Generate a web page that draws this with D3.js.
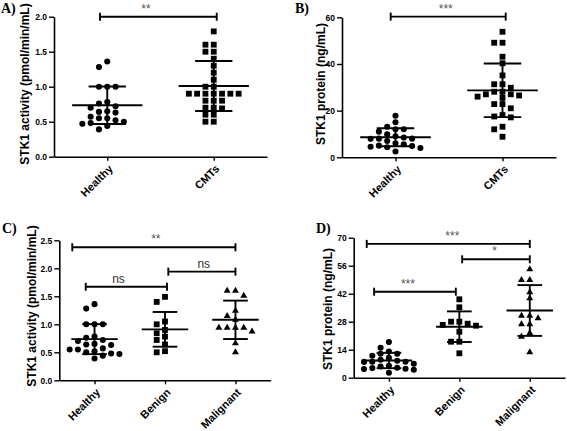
<!DOCTYPE html>
<html><head><meta charset="utf-8">
<script src="https://cdn.jsdelivr.net/npm/d3@7"></script>
<style>
body{margin:0;background:#fff;}
svg{display:block;}
</style></head><body>
<svg id="chart" width="567" height="431"></svg>
<script>
// ---------------- data ----------------
const catsTwo = ["Healthy", "CMTs"];
const catsThree = ["Healthy", "Benign", "Malignant"];

const healthyActivity = [1.36, 1.28, 1.00, 1.00, 1.00, 0.78, 0.76, 0.72, 0.70, 0.65, 0.64, 0.63, 0.57, 0.55, 0.55, 0.52, 0.50, 0.48, 0.47, 0.44, 0.39];
const cmtActivity = [1.79, 1.60, 1.60, 1.50, 1.50, 1.40, 1.30, 1.20, 1.10, 1.00, 1.00, 0.90, 0.90, 0.90, 0.90, 0.90, 0.90, 0.90, 0.80, 0.80, 0.80, 0.70, 0.70, 0.69, 0.60, 0.60, 0.50, 0.50];
const benignActivity = [1.49, 1.40, 1.05, 1.00, 0.90, 0.84, 0.78, 0.72, 0.64, 0.52, 0.50];
const malignantActivity = [1.60, 1.60, 1.51, 1.24, 1.15, 1.08, 0.94, 0.94, 0.94, 0.94, 0.87, 0.66, 0.50];

const healthyProtein = [17.8, 15.0, 13.1, 12.0, 12.0, 11.0, 9.9, 9.0, 8.5, 8.0, 8.0, 7.9, 7.0, 6.0, 5.6, 5.0, 4.8, 4.5, 4.3, 4.0, 2.5];
const cmtProtein = [53.8, 49.1, 49.1, 43.1, 40.3, 35.1, 31.3, 31.3, 29.8, 28.1, 28.1, 27.0, 27.0, 26.5, 26.0, 25.5, 22.8, 22.8, 21.0, 18.1, 17.5, 17.1, 13.1, 12.0, 8.8];
const benignProtein = [39.2, 35.2, 28.0, 28.0, 27.0, 26.4, 26.0, 23.0, 18.0, 18.0, 12.2];
const malignantProtein = [54.2, 48.8, 48.8, 42.7, 39.7, 31.0, 31.0, 29.7, 26.7, 26.7, 22.3, 20.5, 12.7];

// mean and SD bars as drawn
const meanA = [0.735, 1.01];  const sdA = [0.268, 0.357];
const meanB = [8.6, 28.7];    const sdB = [3.85, 11.5];
const meanC = [0.735, 0.91, 1.08]; const sdC = [0.268, 0.31, 0.343];
const meanD = [8.6, 25.5, 33.6];   const sdD = [3.85, 7.65, 12.7];

// tick labels
const ticksA = [0, 0.5, 1.0, 1.5, 2.0];
const ticksB = [0, 20, 40, 60];
const ticksC = [0, 0.5, 1.0, 1.5, 2.0, 2.5];
const ticksD = [0, 14, 28, 42, 56, 70];

// significance brackets: category-index span, height, label, label position
const compsA = [{from: -0.068, to: 1.028, y: 2.0, text: "**", at: 0.364}];
const compsB = [{from: -0.045, to: 1.03, y: 60.3, text: "***", at: 0.47}];
const compsC = [
  {from: -0.316, to: 2.0, y: 2.375, text: "**", at: 0.87},
  {from: -0.125, to: 1.028, y: 1.67, text: "ns", at: 0.34},
  {from: 1.047, to: 2.0, y: 1.94, text: "ns", at: 1.55}
];
const compsD = [
  {from: -0.315, to: 2.0, y: 66.9, text: "***", at: 0.9},
  {from: 1.04, to: 2.0, y: 59.2, text: "*", at: 1.5},
  {from: -0.21, to: 0.95, y: 43, text: "***", at: 0.27}
];

const labelActivity = "STK1 activity (pmol/min/mL)";
const labelProtein = "STK1 protein (ng/mL)";

// ---------------- drawing ----------------
const SANS = "'Liberation Sans', Arial, Helvetica, sans-serif";
const SERIF = "'Liberation Serif', 'Times New Roman', serif";
const svg = d3.select("#chart");

const panels = [
  {tag: "A)", cats: catsTwo, series: [healthyActivity, cmtActivity], means: meanA, sds: sdA,
   domain: [0, 2], ticks: ticksA, fmt: d3.format(".1f"), comps: compsA, yLabel: labelActivity,
   symbols: [d3.symbolCircle, d3.symbolSquare],
   box: {x0: 54, x1: 267, yTop: 16.7, yBottom: 156.7, labX: 28.5, labY: 84, tagX: 1, tagY: 13}},
  {tag: "B)", cats: catsTwo, series: [healthyProtein, cmtProtein], means: meanB, sds: sdB,
   domain: [0, 60], ticks: ticksB, fmt: d3.format("d"), comps: compsB, yLabel: labelProtein,
   symbols: [d3.symbolCircle, d3.symbolSquare],
   box: {x0: 342, x1: 556, yTop: 17.3, yBottom: 157.3, labX: 324.5, labY: 84, tagX: 295, tagY: 13}},
  {tag: "C)", cats: catsThree, series: [healthyActivity, benignActivity, malignantActivity], means: meanC, sds: sdC,
   domain: [0, 2.5], ticks: ticksC, fmt: d3.format(".1f"), comps: compsC, yLabel: labelActivity,
   symbols: [d3.symbolCircle, d3.symbolSquare, d3.symbolTriangle],
   box: {x0: 59.3, x1: 270.7, yTop: 240.3, yBottom: 380.3, labX: 35.5, labY: 306, tagX: 2, tagY: 233}},
  {tag: "D)", cats: catsThree, series: [healthyProtein, benignProtein, malignantProtein], means: meanD, sds: sdD,
   domain: [0, 70], ticks: ticksD, fmt: d3.format("d"), comps: compsD, yLabel: labelProtein,
   symbols: [d3.symbolCircle, d3.symbolSquare, d3.symbolTriangle],
   box: {x0: 353.7, x1: 565, yTop: 237.7, yBottom: 377.7, labX: 332, labY: 309, tagX: 316, tagY: 233}}
];

const symbolSize = new Map([[d3.symbolCircle, 29], [d3.symbolSquare, 34], [d3.symbolTriangle, 21]]);
const SLOT = 8.3, MIN_DY = 6;

function swarm(values, cx, y) {
  const pts = values.map(v => ({v, py: y(v)})).sort((a, b) => a.py - b.py);
  const placed = [];
  const order = [0, -1, 1, -2, 2, -3, 3, -4, 4, -5, 5, -6, 6];
  pts.forEach(p => {
    for (const k of order) {
      if (!placed.some(q => q.k === k && Math.abs(q.py - p.py) < MIN_DY)) {
        p.k = k; placed.push(p); break;
      }
    }
  });
  placed.forEach(p => p.px = cx + p.k * SLOT);
  return placed;
}

panels.forEach(P => {
  const b = P.box;
  const n = P.cats.length;
  const g = svg.append("g");
  const x = d3.scaleLinear().domain([-0.5, n - 0.5]).range([b.x0, b.x1]);
  const y = d3.scaleLinear().domain(P.domain).range([b.yBottom, b.yTop]);
  const step = x(1) - x(0);

  // y axis
  const ya = g.append("g").attr("transform", `translate(${b.x0},0)`)
    .call(d3.axisLeft(y).tickValues(P.ticks).tickFormat(P.fmt).tickSize(5).tickSizeOuter(0).tickPadding(2));
  // x axis
  const xa = g.append("g").attr("transform", `translate(0,${b.yBottom})`)
    .call(d3.axisBottom(x).tickValues(d3.range(n)).tickFormat(i => P.cats[i]).tickSize(4).tickSizeOuter(0));
  [ya, xa].forEach(a => {
    a.select(".domain").attr("stroke", "#000").attr("stroke-width", 1.6);
    a.selectAll(".tick line").attr("stroke", "#000").attr("stroke-width", 1.4);
    a.selectAll("text").attr("fill", "#000").style("font-family", SANS).style("font-weight", "bold");
  });
  ya.selectAll(".tick text").style("font-size", "8.5px");
  xa.selectAll(".tick text")
    .style("font-size", "11px")
    .attr("text-anchor", "end")
    .attr("x", 0).attr("y", 0).attr("dy", "0.35em")
    .attr("transform", "translate(3,10) rotate(-45)");

  // y label
  g.append("text")
    .attr("transform", `translate(${b.labX},${b.labY}) rotate(-90)`)
    .attr("text-anchor", "middle")
    .style("font-family", SANS).style("font-weight", "bold").style("font-size", "12px")
    .text(P.yLabel);

  // panel tag
  g.append("text").attr("x", b.tagX).attr("y", b.tagY)
    .style("font-family", SERIF).style("font-weight", "bold").style("font-size", "14px")
    .text(P.tag);

  // points
  P.series.forEach((vals, i) => {
    const pts = swarm(vals, x(i), y);
    const sym = d3.symbol().type(P.symbols[i]).size(symbolSize.get(P.symbols[i]));
    g.append("g").selectAll("path").data(pts).join("path")
      .attr("d", sym)
      .attr("transform", d => `translate(${d.px},${d.py})`)
      .attr("fill", "#000");
  });

  // mean & SD
  const meanHalf = step * 0.33, capHalf = step * 0.175;
  P.means.forEach((m, i) => {
    const cx = x(i), s = P.sds[i];
    const lg = g.append("g").attr("stroke", "#000").attr("stroke-width", 1.9);
    lg.append("line").attr("x1", cx - meanHalf).attr("x2", cx + meanHalf).attr("y1", y(m)).attr("y2", y(m));
    lg.append("line").attr("x1", cx).attr("x2", cx).attr("y1", y(m - s)).attr("y2", y(m + s));
    lg.append("line").attr("x1", cx - capHalf).attr("x2", cx + capHalf).attr("y1", y(m + s)).attr("y2", y(m + s));
    lg.append("line").attr("x1", cx - capHalf).attr("x2", cx + capHalf).attr("y1", y(m - s)).attr("y2", y(m - s));
  });

  // significance brackets
  P.comps.forEach(c => {
    const yy = y(c.y);
    const cg = g.append("g").attr("stroke", "#000").attr("stroke-width", 1.9);
    cg.append("line").attr("x1", x(c.from)).attr("x2", x(c.to)).attr("y1", yy).attr("y2", yy);
    cg.append("line").attr("x1", x(c.from)).attr("x2", x(c.from)).attr("y1", yy - 4).attr("y2", yy + 4);
    cg.append("line").attr("x1", x(c.to)).attr("x2", x(c.to)).attr("y1", yy - 4).attr("y2", yy + 4);
    g.append("text").attr("x", x(c.at)).attr("y", yy - 4)
      .attr("text-anchor", "middle")
      .style("font-family", SANS).style("font-size", "12px")
      .attr("fill", c.text === "ns" ? "#333" : "#555")
      .text(c.text);
  });
});
</script></body></html>
